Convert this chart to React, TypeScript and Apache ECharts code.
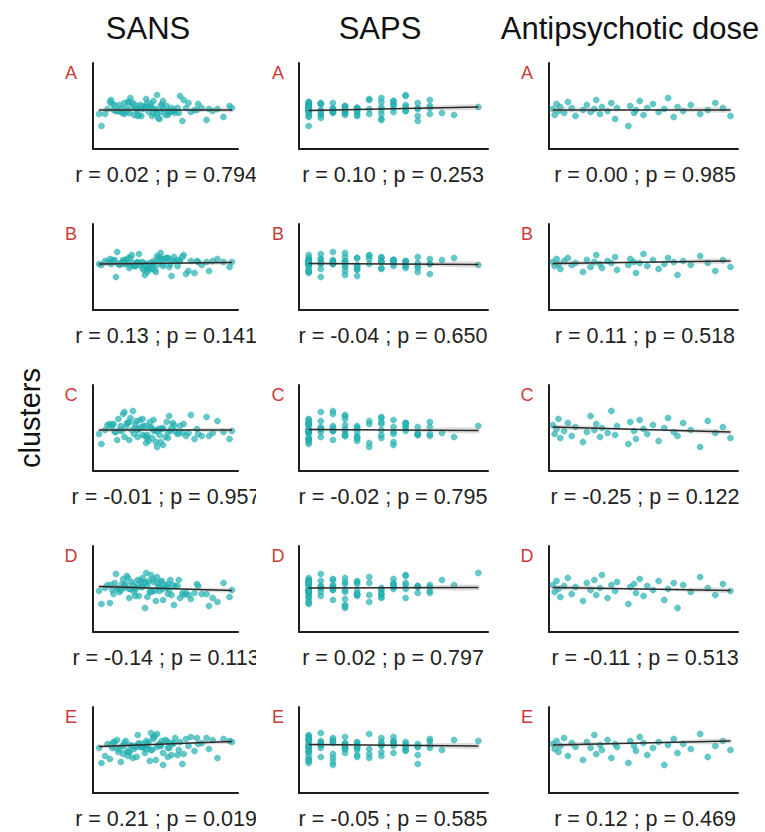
import React, { useEffect, useRef } from "react";
import * as echarts from "echarts";

// ---- data ----
const rowLabels = ["A", "B", "C", "D", "E"];
const columnTitles = ["SANS", "SAPS", "Antipsychotic dose"];

// per-subject scores (same subjects in every row)
const sansScore = [
  12, 34, 57, 21, 45, 68, 29, 90, 40, 52,
  18, 63, 37, 75, 26, 48, 99, 33, 55, 42,
  7, 61, 24, 84, 50, 38, 70, 16, 46, 58,
  31, 108, 43, 66, 22, 53, 36, 79, 27, 49,
  64, 14, 41, 94, 56, 30, 72, 19, 47, 60,
  35, 87, 25, 51, 44, 67, 10, 39, 77, 54,
  28, 113, 62, 23, 45, 81, 32, 58, 17, 71,
  48, 37, 103, 53, 20, 65, 41, 5, 86, 30,
  56, 44, 74, 26, 96, 50, 35, 62, 15, 115,
];
const sapsScore = [
  0, 3, 1, 0, 6, 2, 0, 4, 9, 0,
  7, 3, 0, 5, 1, 8, 0, 2, 6, 4,
  0, 10, 3, 0, 7, 1, 9, 0, 4, 2,
  6, 0, 3, 8, 0, 5, 1, 0, 7, 4,
  2, 0, 9, 6, 3, 0, 8, 1, 0, 12,
  4, 7, 2, 0, 5, 3, 6, 0, 10, 1,
  8, 0, 4, 2, 9, 3, 0, 7, 6, 11,
  1, 0, 5, 8, 2, 4, 3, 10, 0, 6,
  7, 14, 9, 1, 3, 0, 8, 4, 10, 2,
];
// antipsychotic dose: available for the first 40 subjects
const apDose = [
  2, 3, 4, 5, 6, 8, 10, 12, 14, 18,
  20, 22, 24, 25, 27, 28, 31, 33, 35, 36,
  42, 43, 45, 46, 48, 50, 52, 55, 58, 61,
  63, 66, 68, 71, 75, 80, 84, 88, 92, 96,
];

const clusterA = [
  -0.3, -0.9, 0.2, -0.5, -0.1, -0.7, 0.4, -0.2, -1.0, -0.4,
  0.1, -0.6, -0.3, 0.6, -0.8, -0.1, -0.5, 0.3, -1.3, -0.2,
  -2.0, 0.0, -0.7, -0.4, 0.5, -0.9, -0.2, 0.2, -0.6, -0.3,
  0.8, -1.1, -0.1, -0.5, 0.1, -0.8, -0.4, 0.3, -0.2, -1.0,
  -0.6, 0.4, -0.3, -1.4, 0.0, -0.7, 1.0, -0.5, -0.1, -0.9,
  -0.2, 0.2, -0.6, -0.3, 0.7, -0.4, -0.8, 0.1, -0.2, -1.2,
  -0.5, 0.0, -0.9, -0.3, 0.3, -0.6, -0.1, 0.5, -0.4, -0.7,
  0.2, -1.0, -0.3, 1.1, -0.5, -0.2, 0.0, -0.8, -0.4, 0.4,
  -0.6, -0.1, -1.5, 0.3, -0.3, -0.7, 0.1, -0.5, 0.6, -0.2,
];
const clusterB = [
  0.5, 0.1, 0.8, 0.3, -0.2, 0.6, 0.9, 0.2, 0.4, -0.5,
  0.7, 0.0, 0.5, 1.2, 0.3, -0.1, 0.6, 0.4, 1.0, -0.3,
  0.2, 0.8, 0.5, -0.6, 0.4, 1.3, 0.1, 0.7, -0.2, 0.3,
  0.9, 0.5, -0.8, 0.6, 0.2, 1.1, 0.4, -0.4, 0.7, 0.0,
  0.3, 0.8, -0.1, 0.5, 1.4, 0.2, 0.6, -1.0, 0.4, 0.9,
  0.1, 0.5, 0.7, -0.3, 0.3, 1.0, 0.6, 0.2, -0.7, 0.8,
  0.4, 0.0, 0.9, 0.3, -0.5, 0.6, 1.2, 0.1, 0.5, 0.7,
  -0.2, 0.4, 0.8, 0.2, 1.5, -0.9, 0.5, 0.3, 0.6, -0.1,
  0.7, 0.2, 1.0, 0.4, -0.4, 0.6, 0.1, 0.9, 0.3, 0.5,
];
const clusterC = [
  0.3, -0.6, -0.1, 0.9, -1.0, -0.3, 0.5, -0.8, 0.1, -1.4,
  -0.4, 1.2, -0.2, 0.4, -0.9, 0.0, -0.5, 1.7, -0.7, 0.2,
  -1.6, 0.6, -0.3, -1.1, 0.8, -0.1, -0.6, 0.3, -1.3, 0.0,
  1.0, -0.4, -0.8, 0.5, -0.2, -1.9, 0.7, -0.5, 0.1, -1.0,
  -0.3, 0.4, -0.7, 1.1, -0.1, -1.2, 0.2, -0.4, 0.6, -0.9,
  0.0, -0.6, 1.4, -0.3, -1.5, 0.3, -0.2, 0.8, -0.8, -0.1,
  0.5, -1.1, -0.4, 0.2, -0.7, 1.3, -0.2, -1.7, 0.4, -0.5,
  0.1, -0.9, 0.7, -0.3, -1.2, 0.0, 0.9, -0.6, -0.1, 0.6,
  -1.4, 0.2, -0.5, 1.6, -0.8, -0.2, 0.4, -1.0, 0.1, -0.3,
];
const clusterD = [
  0.4, -0.3, 0.8, 0.0, -0.8, 0.3, 1.1, -0.5, 0.2, -1.2,
  0.6, -0.1, 0.9, -0.6, 0.1, 1.4, -0.9, 0.4, -0.2, 0.7,
  -1.5, 0.2, 0.5, -0.4, 1.0, -0.7, 0.3, -0.1, 0.8, -1.1,
  0.0, 0.6, -1.9, 0.4, -0.3, 1.2, 0.1, -0.6, 0.5, -0.2,
  0.9, -1.4, 0.2, -0.5, 0.7, 0.0, -0.9, 1.5, -0.3, 0.4,
  -0.7, 0.3, 1.0, -0.2, 0.6, -1.6, 0.1, 0.8, -0.4, 0.2,
  1.3, -0.8, 0.5, -0.1, 0.3, -1.0, 0.7, 0.0, -0.5, 0.9,
  -0.3, 0.4, -1.3, 0.6, 0.1, -0.6, 1.1, -0.2, 0.5, -0.9,
  0.2, 1.6, -0.4, 0.3, -1.7, 0.7, 0.0, -0.5, 0.4, -0.1,
];
const clusterE = [
  0.6, 0.1, 0.9, -0.2, 0.4, 1.2, -0.6, 0.7, 0.3, -1.0,
  0.8, 0.2, 1.5, -0.4, 0.5, 0.0, 1.0, -0.8, 0.6, 0.3,
  -1.3, 0.9, 0.4, -0.1, 1.3, 0.7, -0.5, 0.2, 0.8, -1.5,
  0.5, 1.1, -0.3, 0.6, 0.1, 1.6, -0.7, 0.4, 0.9, 0.0,
  0.7, -0.9, 0.3, 1.2, 0.5, -0.2, 0.8, 0.2, -1.1, 1.0,
  0.4, 0.6, -0.4, 1.4, 0.1, 0.7, -0.6, 0.3, 1.1, 0.5,
  -0.1, 0.9, 0.2, -1.2, 0.6, 1.3, 0.4, -0.3, 0.8, 0.0,
  1.7, 0.5, -0.8, 0.3, 1.0, -0.5, 0.6, 0.2, 1.2, -0.2,
  0.4, 0.9, -1.4, 0.7, 0.1, 1.1, 0.3, -0.7, 0.5, 0.8,
];
const clusters = [clusterA, clusterB, clusterC, clusterD, clusterE];

// fitted line end points [x1, y1, x2, y2]
const sansFit = [
  [5, -0.4, 115, -0.4],
  [5, 0.3, 115, 0.45],
  [5, -0.2, 115, -0.2],
  [5, 0.25, 115, -0.15],
  [5, 0.35, 115, 0.85],
];
const sapsFit = [
  [0, -0.45, 14, -0.1],
  [0, 0.35, 14, 0.25],
  [0, -0.15, 14, -0.25],
  [0, 0.1, 14, 0.15],
  [0, 0.55, 14, 0.4],
];
const apFit = [
  [2, -0.4, 96, -0.4],
  [2, 0.35, 96, 0.6],
  [2, 0.1, 96, -0.4],
  [2, 0.15, 96, -0.15],
  [2, 0.5, 96, 0.9],
];
// confidence band half-width at start / middle / end of each fit line
const sansBand = [0.18, 0.05, 0.2];
const sapsBand = [0.1, 0.06, 0.28];
const apBand = [0.22, 0.06, 0.24];

const sansStats = [
  "r = 0.02 ; p = 0.794",
  "r = 0.13 ; p = 0.141",
  "r = -0.01 ; p = 0.957",
  "r = -0.14 ; p = 0.113",
  "r = 0.21 ; p = 0.019",
];
const sapsStats = [
  "r = 0.10 ; p = 0.253",
  "r = -0.04 ; p = 0.650",
  "r = -0.02 ; p = 0.795",
  "r = 0.02 ; p = 0.797",
  "r = -0.05 ; p = 0.585",
];
const apStats = [
  "r = 0.00 ; p = 0.985",
  "r = 0.11 ; p = 0.518",
  "r = -0.25 ; p = 0.122",
  "r = -0.11 ; p = 0.513",
  "r = 0.12 ; p = 0.469",
];

export default function App() {
  const ref = useRef<HTMLDivElement>(null);

  useEffect(() => {
    if (!ref.current) return;
    const chart = echarts.init(ref.current, null, { renderer: "svg" });

    const FONT = "Liberation Sans, Arial, Helvetica, sans-serif";
    const cols = [
      { xs: sansScore, xMin: 0, xMax: 120, fit: sansFit, band: sansBand, stats: sansStats, left: 93, width: 145, textX: 166, letterX: 71 },
      { xs: sapsScore, xMin: -0.8, xMax: 14.8, fit: sapsFit, band: sapsBand, stats: sapsStats, left: 299, width: 189, textX: 393, letterX: 278 },
      { xs: apDose, xMin: 0, xMax: 100, fit: apFit, band: apBand, stats: apStats, left: 549, width: 189, textX: 645, letterX: 527 },
    ];
    const titleX = [148, 380, 630];
    const rowTop = (r: number) => 63 + 161 * r;

    const grid: any[] = [];
    const xAxis: any[] = [];
    const yAxis: any[] = [];
    const series: any[] = [];
    const graphic: any[] = [];

    const axisLine = { show: true, onZero: false, lineStyle: { color: "#1e1e1e", width: 2 } };

    cols.forEach((col, c) => {
      rowLabels.forEach((lab, r) => {
        const idx = grid.length;
        grid.push({ left: col.left, top: rowTop(r), width: col.width, height: 86 });
        xAxis.push({
          type: "value", gridIndex: idx, min: col.xMin, max: col.xMax,
          axisLine, axisTick: { show: false }, axisLabel: { show: false }, splitLine: { show: false },
        });
        yAxis.push({
          type: "value", gridIndex: idx, min: -4.3, max: 4.3,
          axisLine, axisTick: { show: false }, axisLabel: { show: false }, splitLine: { show: false },
        });
        const ys = clusters[r];
        series.push({
          type: "scatter", xAxisIndex: idx, yAxisIndex: idx,
          data: col.xs.map((x, i) => [x, ys[i]]),
          symbolSize: 6,
          itemStyle: { color: "#27b6b6", opacity: 0.72, borderColor: "#1a9f9f", borderWidth: 0.6 },
          z: 2,
        });
        const f = col.fit[r];
        const b = col.band;
        series.push({
          type: "custom", xAxisIndex: idx, yAxisIndex: idx,
          data: [[f[0], f[1], f[2], f[3], b[0], b[1], b[2]]],
          renderItem: (params: any, api: any) => {
            const x1 = api.value(0), y1 = api.value(1), x2 = api.value(2), y2 = api.value(3);
            const w1 = api.value(4), wm = api.value(5), w2 = api.value(6);
            const xm = (x1 + x2) / 2, ym = (y1 + y2) / 2;
            const pts = [
              api.coord([x1, y1 + w1]), api.coord([xm, ym + wm]), api.coord([x2, y2 + w2]),
              api.coord([x2, y2 - w2]), api.coord([xm, ym - wm]), api.coord([x1, y1 - w1]),
            ];
            return {
              type: "polygon",
              shape: { points: pts, smooth: 0.4 },
              style: { fill: "rgba(150,150,150,0.3)" },
            };
          },
          silent: true,
          z: 3,
        });
        series.push({
          type: "line", xAxisIndex: idx, yAxisIndex: idx,
          data: [[f[0], f[1]], [f[2], f[3]]],
          symbol: "none",
          lineStyle: { color: "#2a2a2a", width: 1.7 },
          z: 4,
        });
        graphic.push({
          type: "text", x: col.letterX, y: 73 + 161 * r, z: 10,
          style: { text: lab, fill: "#cc3b3b", fontSize: 18, fontFamily: FONT, textAlign: "center", textVerticalAlign: "middle" },
        });
        graphic.push({
          type: "text", x: col.textX, y: 175 + 161 * r, z: 10,
          style: { text: col.stats[r], fill: "#222", fontSize: 21.5, fontFamily: FONT, textAlign: "center", textVerticalAlign: "middle" },
        });
      });
    });

    // right edge of the first column's panel clips its labels
    rowLabels.forEach((_, r) => {
      graphic.push({
        type: "rect", z: 20,
        shape: { x: 256, y: 160 + 161 * r, width: 12, height: 30 },
        style: { fill: "#fff" },
      });
    });

    columnTitles.forEach((t, c) => {
      graphic.push({
        type: "text", x: titleX[c], y: 28, z: 10,
        style: { text: t, fill: "#111", fontSize: 31, fontFamily: FONT, textAlign: "center", textVerticalAlign: "middle" },
      });
    });
    graphic.push({
      type: "text", x: 30, y: 418, z: 10, rotation: Math.PI / 2,
      style: { text: "clusters", fill: "#111", fontSize: 29, fontFamily: FONT, textAlign: "center", textVerticalAlign: "middle" },
    });

    chart.setOption({
      animation: false,
      backgroundColor: "#fff",
      grid, xAxis, yAxis, series, graphic,
    });
    return () => chart.dispose();
  }, []);

  return (
    <div
      ref={ref}
      style={{ position: "fixed", left: 0, top: 0, width: 765, height: 832, background: "#fff" }}
    />
  );
}
